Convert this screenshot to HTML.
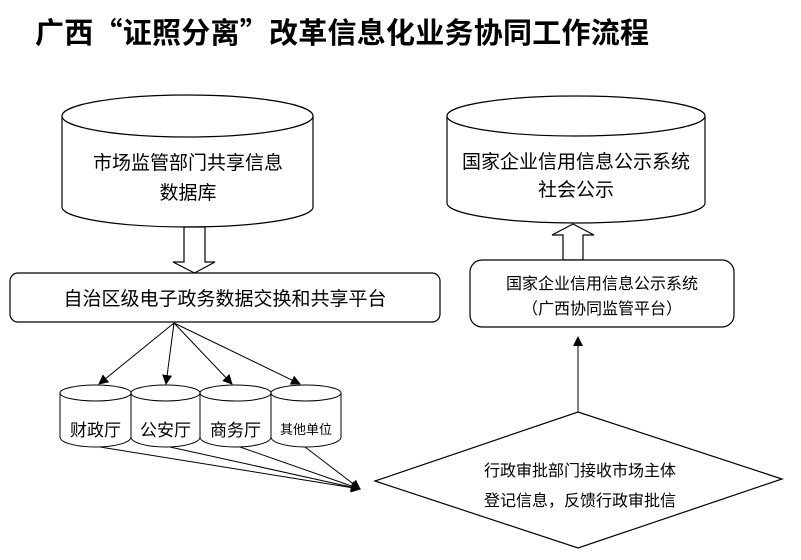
<!DOCTYPE html>
<html><head><meta charset="utf-8"><style>
body{margin:0;background:#fff;}
svg{display:block;font-family:"Liberation Sans","Noto Sans CJK SC",sans-serif;}
</style></head><body>
<svg width="801" height="560" viewBox="0 0 801 560" xmlns="http://www.w3.org/2000/svg">
<defs>
<marker id="ah" markerWidth="10" markerHeight="10" refX="9" refY="5" orient="auto" markerUnits="userSpaceOnUse">
<path d="M0,0 L10,5 L0,10 z" fill="#000"/></marker>
</defs>
<text x="35" y="43" font-size="29" font-weight="bold" letter-spacing="0.25" font-family="Noto Sans CJK SC, sans-serif">广西“证照分离”改革信息化业务协同工作流程</text>

<g fill="#fff" stroke="#000" stroke-width="1.2">
<path d="M62,116 L62,207 A125.5,20 0 0 0 313,207 L313,116"/>
<ellipse cx="187.5" cy="116" rx="125.5" ry="21"/>
<path d="M447,116 L447,203 A129,20 0 0 0 705,203 L705,116"/>
<ellipse cx="576" cy="116" rx="129" ry="20"/>
<path d="M184,227 L205,227 L205,262 L215,262 L194.5,273 L173,262 L184,262 z"/>
<path d="M563,260 L583,260 L583,235 L594,235 L573,224 L552,235 L563,235 z"/>
<rect x="10" y="273" width="430" height="49" rx="8"/>
<rect x="470" y="260" width="264" height="67" rx="12"/>
<path d="M375,481 L578,412 L782,479 L578,548 z"/>
</g>

<g fill="#fff" stroke="#000" stroke-width="1">
<path d="M60,393 L60,437 A35.5,10 0 0 0 131,437 L131,393"/><ellipse cx="95.5" cy="393" rx="35.5" ry="8"/>
<path d="M131,393 L131,437 A34.5,10 0 0 0 200,437 L200,393"/><ellipse cx="165.5" cy="393" rx="34.5" ry="8"/>
<path d="M200,393 L200,437 A35.5,10 0 0 0 271,437 L271,393"/><ellipse cx="235.5" cy="393" rx="35.5" ry="8"/>
<path d="M271,393 L271,437 A35,10 0 0 0 341,437 L341,393"/><ellipse cx="306" cy="393" rx="35" ry="8"/>
</g>

<g stroke="#000" stroke-width="1" fill="none">
<line x1="174" y1="323" x2="99" y2="384" marker-end="url(#ah)"/>
<line x1="174" y1="323" x2="166" y2="384" marker-end="url(#ah)"/>
<line x1="174" y1="323" x2="232" y2="384" marker-end="url(#ah)"/>
<line x1="174" y1="323" x2="300" y2="384" marker-end="url(#ah)"/>
<line x1="100" y1="447" x2="360" y2="489" marker-end="url(#ah)"/>
<line x1="170" y1="447" x2="360" y2="489" marker-end="url(#ah)"/>
<line x1="240" y1="447" x2="360" y2="489" marker-end="url(#ah)"/>
<line x1="305" y1="447" x2="360" y2="489" marker-end="url(#ah)"/>
<line x1="578" y1="412" x2="578" y2="337" marker-end="url(#ah)"/>
</g>

<g font-size="19" text-anchor="middle" fill="#000">
<text x="188" y="169">市场监管部门共享信息</text>
<text x="188" y="199">数据库</text>
<text x="576" y="168">国家企业信用信息公示系统</text>
<text x="576" y="196">社会公示</text>
</g>
<text x="225" y="305" font-size="19" text-anchor="middle">自治区级电子政务数据交换和共享平台</text>
<g font-size="16" text-anchor="middle">
<text x="602" y="289">国家企业信用信息公示系统</text>
<text x="602" y="314">（广西协同监管平台）</text>
<text x="580" y="476">行政审批部门接收市场主体</text>
<text x="580" y="506">登记信息，反馈行政审批信</text>
</g>
<g font-size="17" text-anchor="middle">
<text x="95.5" y="436">财政厅</text>
<text x="165.5" y="436">公安厅</text>
<text x="235.5" y="436">商务厅</text>
<text x="306" y="434" font-size="13">其他单位</text>
</g>
</svg>
</body></html>
